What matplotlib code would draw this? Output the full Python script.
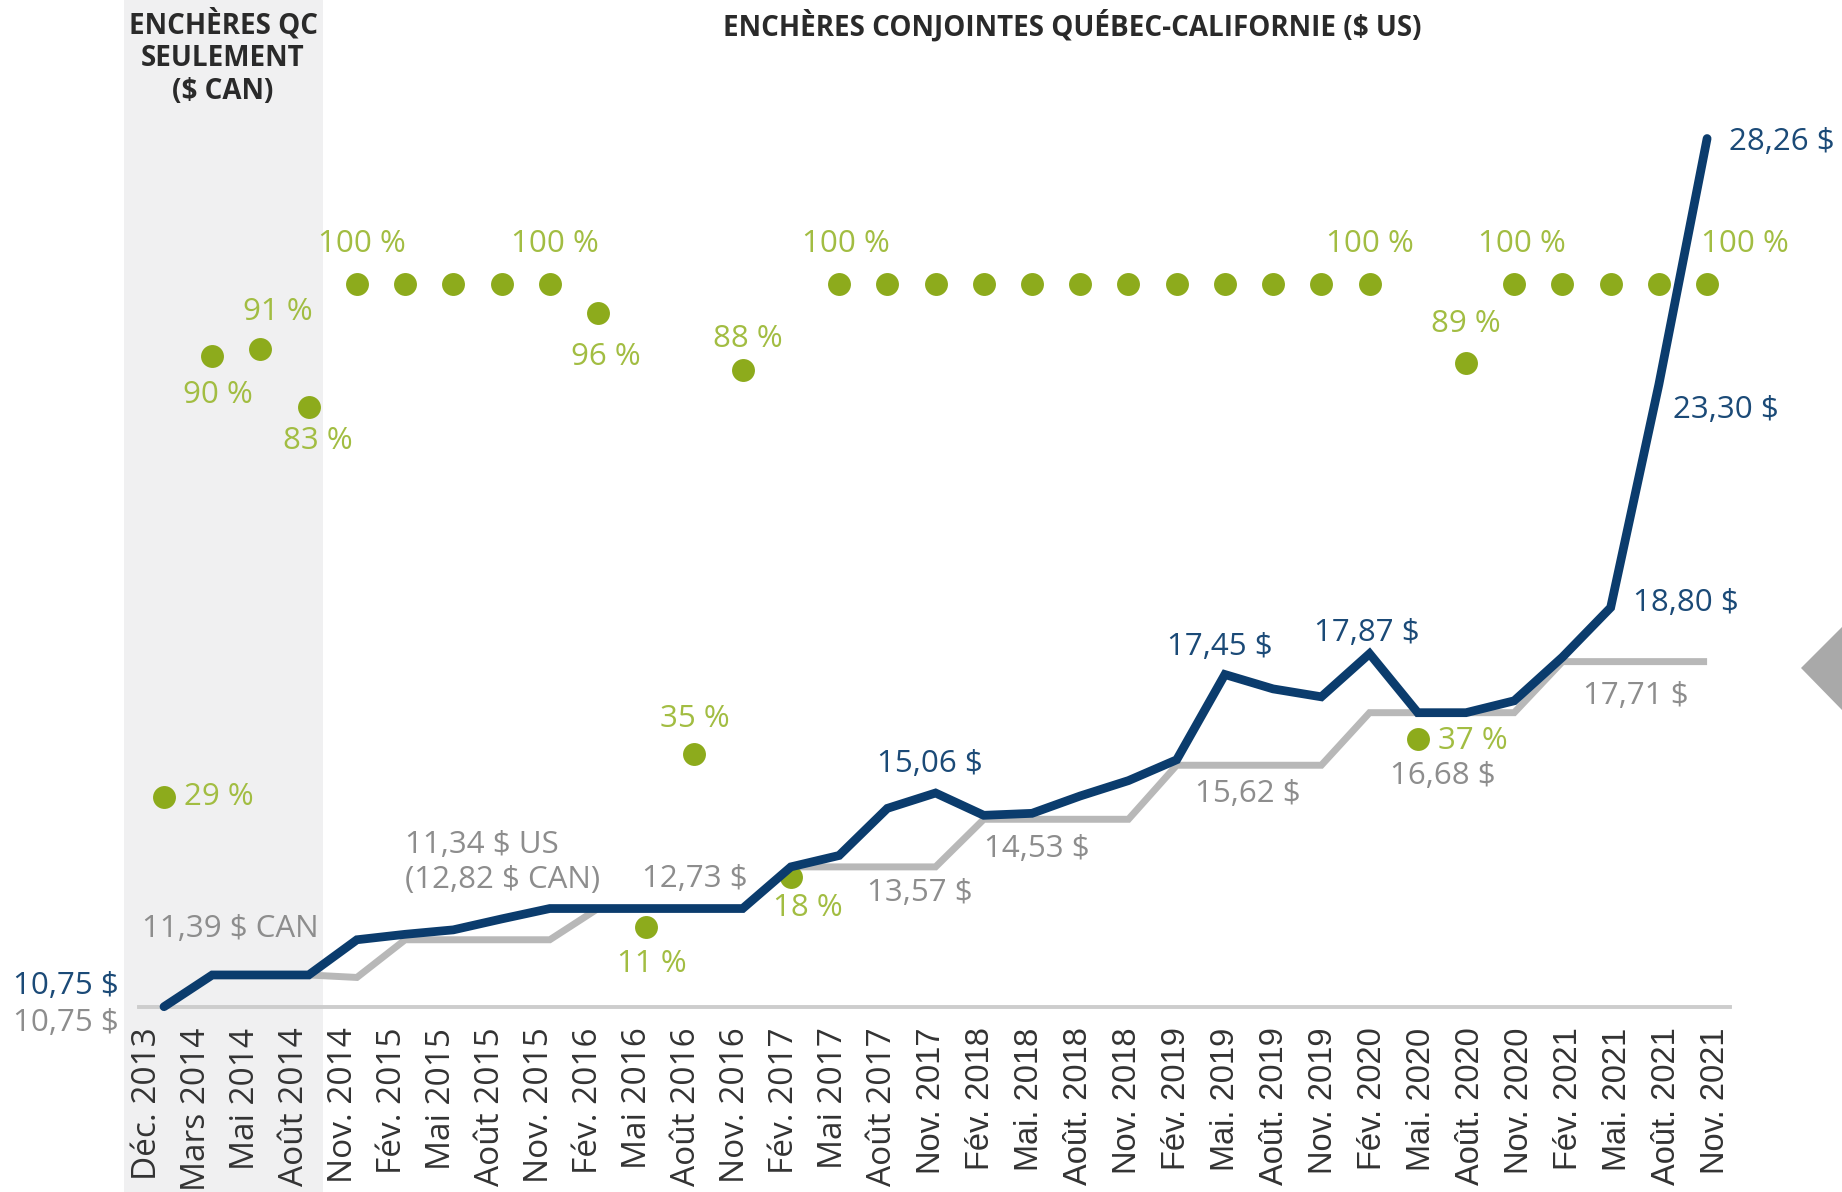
import matplotlib
matplotlib.use("Agg")
import matplotlib.pyplot as plt
from matplotlib.patches import Rectangle, Polygon
from matplotlib.transforms import blended_transform_factory, ScaledTranslation

plt.rcParams['font.family'] = ['Open Sans', 'DejaVu Sans']

# ---------------- data ----------------
categories = ["Déc. 2013", "Mars 2014", "Mai 2014", "Août 2014", "Nov. 2014",
              "Fév. 2015", "Mai 2015", "Août 2015", "Nov. 2015", "Fév. 2016",
              "Mai 2016", "Août 2016", "Nov. 2016", "Fév. 2017", "Mai 2017",
              "Août 2017", "Nov. 2017", "Fév. 2018", "Mai. 2018", "Août. 2018",
              "Nov. 2018", "Fév. 2019", "Mai. 2019", "Août. 2019", "Nov. 2019",
              "Fév. 2020", "Mai. 2020", "Août. 2020", "Nov. 2020", "Fév. 2021",
              "Mai. 2021", "Août. 2021", "Nov. 2021"]

settlement_price = [10.75, 11.39, 11.39, 11.39, 12.10, 12.21, 12.30, 12.52, 12.73,
                    12.73, 12.73, 12.73, 12.73, 13.57, 13.80, 14.75, 15.06, 14.61,
                    14.65, 15.00, 15.31, 15.73, 17.45, 17.16, 17.00, 17.87, 16.68,
                    16.68, 16.92, 17.80, 18.80, 23.30, 28.26]

floor_price = [10.75, 11.39, 11.39, 11.39, 11.34, 12.10, 12.10, 12.10, 12.10,
               12.73, 12.73, 12.73, 12.73, 13.57, 13.57, 13.57, 13.57, 14.53,
               14.53, 14.53, 14.53, 15.62, 15.62, 15.62, 15.62, 16.68, 16.68,
               16.68, 16.68, 17.71, 17.71, 17.71, 17.71]

pct_sold = [29, 90, 91, 83, 100, 100, 100, 100, 100, 96, 11, 35, 88, 18,
            100, 100, 100, 100, 100, 100, 100, 100, 100, 100, 100, 100,
            37, 89, 100, 100, 100, 100, 100]

# annotations: (index, text)
settle_labels = [(0, "10,75 $"), (16, "15,06 $"), (22, "17,45 $"), (25, "17,87 $"),
                 (30, "18,80 $"), (31, "23,30 $"), (32, "28,26 $")]
floor_labels = [(0, "10,75 $"), (1, "11,39 $ CAN"), (4, "11,34 $ US\n(12,82 $ CAN)"),
                (11, "12,73 $"), (15, "13,57 $"), (18, "14,53 $"), (22, "15,62 $"),
                (26, "16,68 $"), (30, "17,71 $")]
pct_labels = [(0, "29 %"), (1, "90 %"), (2, "91 %"), (3, "83 %"), (4, "100 %"),
              (8, "100 %"), (9, "96 %"), (10, "11 %"), (11, "35 %"), (12, "88 %"),
              (13, "18 %"), (14, "100 %"), (25, "100 %"), (26, "37 %"), (27, "89 %"),
              (28, "100 %"), (32, "100 %")]

# placement of annotations (offset in points, horizontal alignment)
settle_pos = [(-32.7, 15.2, 'right'), (-3.8, 21.1, 'center'), (-4, 19.5, 'center'),
              (-1.7, 15.2, 'center'), (16.2, 3.4, 'left'), (10.2, -18.3, 'left'),
              (16.1, -2.5, 'left')]
floor_pos = [(-32.7, -11.9, 'right'), (13, 33, 'center'), (34.8, 82.9, 'left'),
             (0, 21.1, 'center'), (23.3, -18.6, 'center'), (3.8, -21.6, 'center'),
             (16.3, -20.7, 'center'), (17.9, -45.8, 'center'), (17.8, -25.1, 'center')]
pct_pos = [(14.4, 0, 'left'), (4.2, -27.9, 'center'), (12.6, 26.2, 'center'),
           (6.7, -24.4, 'center'), (3.3, 28.3, 'center'), (4, 28.3, 'center'),
           (5.7, -32, 'center'), (4, -26.8, 'center'), (0, 25, 'center'),
           (3.9, 22.3, 'center'), (12.3, -22.7, 'center'), (4.7, 28.3, 'center'),
           (0, 28.3, 'center'), (14.4, -1, 'left'), (0, 28.2, 'center'),
           (5.2, 28.3, 'center'), (27, 28.3, 'center')]

# ---------------- style ----------------
NAVY = "#0b3c6d"
NAVY_TXT = "#1b4a77"
GRAY_LINE = "#b8b8b8"
GRAY_TXT = "#8d8d8d"
BASE = "#cdcdcd"
GREEN = "#8dab1c"
GREEN_TXT = "#a2bd42"
SHADE = "#f0f0f1"
HEAD = "#2a2a2a"

W, H = 1842, 1192
fig = plt.figure(figsize=(W / 100, H / 100), dpi=100)
fig.patch.set_facecolor("white")

ax = fig.add_axes([138.6 / W, (H - 1006.7) / H, (1730 - 138.6) / W, 1006.7 / H])
ax.patch.set_visible(False)
ax.set_xlim(-0.527, 32.475)
ax.set_ylim(10.75, 31.054)
ax_pct = ax.twinx()
ax_pct.set_ylim(0, 139.24)
ax_pct.axis('off')

for s in ax.spines.values():
    s.set_visible(False)
ax.set_yticks([])

x = list(range(len(categories)))

# shaded Quebec-only area (spans the whole figure height)
shade_tr = blended_transform_factory(ax.transData, fig.transFigure)
ax.add_patch(Rectangle((-0.82, 0), 3.30 + 0.82, 1, transform=shade_tr,
                       facecolor=SHADE, edgecolor='none', zorder=0, clip_on=False))

# baseline
ax.axhline(10.75, color=BASE, lw=2.8, zorder=1, clip_on=False)

# floor price (gray)
ax.plot(x, floor_price, color=GRAY_LINE, lw=5.0, zorder=2, clip_on=False,
        solid_joinstyle='miter', solid_capstyle='butt')

# percentage sold dots
ax.plot(x, pct_sold, 'o', color=GREEN, ms=16.5, mew=0.0,
        transform=ax_pct.transData, zorder=3, clip_on=False)

# settlement price (navy)
ax.plot(x, settlement_price, color=NAVY, lw=6.3, zorder=4, clip_on=False,
        solid_joinstyle='miter', solid_capstyle='round')

FS = 22.5
for (i, t), (dx, dy, ha) in zip(settle_labels, settle_pos):
    ax.annotate(t, xy=(i, settlement_price[i]), xytext=(dx, dy), textcoords='offset points',
                ha=ha, va='center', color=NAVY_TXT, fontsize=FS, annotation_clip=False, zorder=6)
for (i, t), (dx, dy, ha) in zip(floor_labels, floor_pos):
    ax.annotate(t, xy=(i, floor_price[i]), xytext=(dx, dy), textcoords='offset points',
                ha=ha, va='center', color=GRAY_TXT, fontsize=FS, annotation_clip=False,
                multialignment='left', linespacing=1.2, zorder=6)
for (i, t), (dx, dy, ha) in zip(pct_labels, pct_pos):
    ax.annotate(t, xy=(i, pct_sold[i]), xycoords=ax_pct.transData, xytext=(dx, dy),
                textcoords='offset points', ha=ha, va='center', color=GREEN_TXT,
                fontsize=FS, annotation_clip=False, zorder=6)

# x tick labels
ax.set_xticks(x)
ax.set_xticklabels(categories, rotation=90, fontsize=24, color="#333333")
ax.tick_params(axis='x', length=0, pad=15)
n = len(categories)
for i, lab in enumerate(ax.get_xticklabels()):
    if i >= 16:
        lab.set_fontfamily(['Liberation Sans', 'DejaVu Sans'])
        lab.set_fontsize(23.5)
    shift = (-16.5 + 24.5 * i / (n - 1)) / 100.0
    lab.set_transform(lab.get_transform() + ScaledTranslation(shift, 0, fig.dpi_scale_trans))

# headers
fig.text(223 / W, 1 - 57.6 / H, "ENCHÈRES QC\nSEULEMENT\n($ CAN)", ha='center', va='center',
         fontsize=20, fontweight='bold', color=HEAD, linespacing=1.18)
fig.text(1072.5 / W, 1 - 26 / H, "ENCHÈRES CONJOINTES QUÉBEC-CALIFORNIE ($ US)",
         ha='center', va='center', fontsize=20, fontweight='bold', color=HEAD)

# decorative gray diamond at right edge
fig.patches.append(Polygon([(1801 / W, 1 - 668 / H), (1842 / W, 1 - 627 / H),
                            (1883 / W, 1 - 668 / H), (1842 / W, 1 - 710 / H)],
                           closed=True, transform=fig.transFigure, facecolor="#a9a9a9",
                           edgecolor='none'))

fig.savefig("out.png", dpi=100)
